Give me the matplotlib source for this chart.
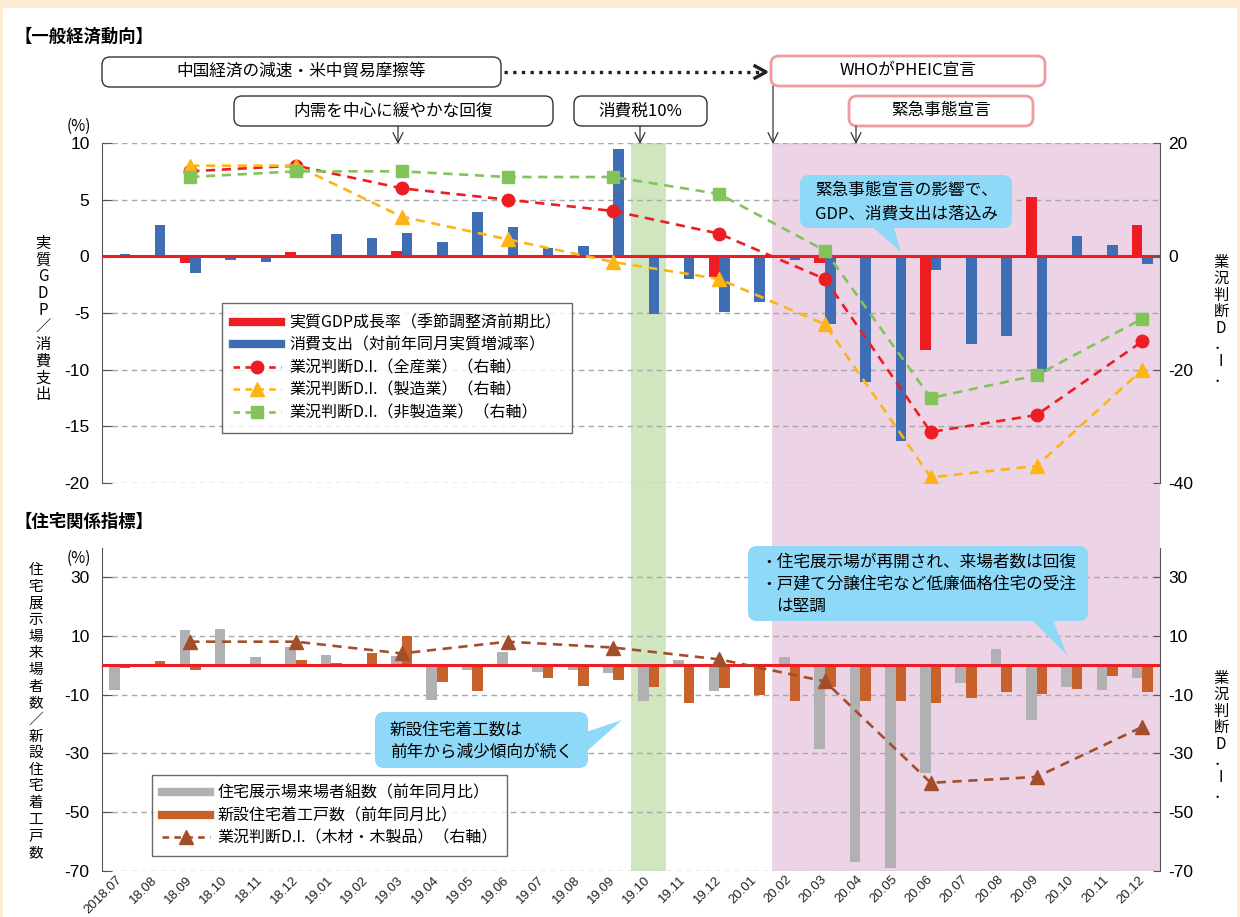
import matplotlib
matplotlib.use('Agg')
import matplotlib.pyplot as plt
import numpy as np
from matplotlib.patches import FancyBboxPatch, Polygon, Rectangle
from matplotlib.lines import Line2D

plt.rcParams['font.family'] = ['Noto Sans CJK JP', 'DejaVu Sans']
plt.rcParams['axes.unicode_minus'] = False

# ---- data ----
months = ['2018.07', '18.08', '18.09', '18.10', '18.11', '18.12',
          '19.01', '19.02', '19.03', '19.04', '19.05', '19.06',
          '19.07', '19.08', '19.09', '19.10', '19.11', '19.12',
          '20.01', '20.02', '20.03', '20.04', '20.05', '20.06',
          '20.07', '20.08', '20.09', '20.10', '20.11', '20.12']
quarter_months = ['18.09', '18.12', '19.03', '19.06', '19.09',
                  '19.12', '20.03', '20.06', '20.09', '20.12']

gdp = [-0.6, 0.4, 0.5, 0.05, 0.1, -1.8, -0.6, -8.3, 5.2, 2.8]
consumption = [0.2, 2.8, -1.5, -0.3, -0.5, -0.1, 2.0, 1.65, 2.1, 1.3,
               3.95, 2.6, 0.75, 0.95, 9.5, -5.1, -2.0, -4.9, -4.0, -0.35,
               -6.0, -11.1, -16.3, -1.2, -7.7, -7.0, -10.2, 1.8, 1.0, -0.65]
di_all = [15, 16, 12, 10, 8, 4, -4, -31, -28, -15]
di_mfg = [16, 16, 7, 3, -1, -4, -12, -39, -37, -20]
di_nonmfg = [14, 15, 15, 14, 14, 11, 1, -25, -21, -11]

visitors = [-8.4, 0, 12.0, 12.4, 2.7, 6.3, 3.5, 0, 3.0, -11.8,
            -1.8, 4.5, -2.4, -1.8, -2.7, -12.3, 1.9, -8.9, 0, 2.9,
            -28.5, -67.0, -69.0, -36.8, -6.1, 5.5, -18.8, -7.5, -8.5, -4.4]
starts = [-0.9, 1.35, -1.7, 0.3, -0.7, 1.9, 0.9, 4.1, 9.8, -5.7,
          -8.8, 0.3, -4.2, -7.2, -4.9, -7.3, -12.7, -7.9, -10.1, -12.3,
          -7.5, -12.3, -12.1, -12.8, -11.3, -9.0, -9.9, -8.2, -3.7, -9.0]
di_wood = [8, 8, 4, 8, 6, 2, -5.5, -40, -38, -21]

x = np.arange(len(months))
qx = np.array([months.index(m) for m in quarter_months])

RED = '#EE1D23'
BLUE = '#3F6EB5'
YEL = '#FDB515'
GRN = '#82C45A'
GRAY = '#B1B1B4'
ORG = '#C8622B'
BRN = '#A34E2A'
PINK = '#EDD3E6'
LGRN = '#CFE6BF'

W, H = 1240, 917
fig = plt.figure(figsize=(12.4, 9.17), dpi=100)
fig.patch.set_facecolor('#FDEBD1')
fig.add_artist(Rectangle((3 / W, 0), 1234 / W, 1 - 8 / H, transform=fig.transFigure,
                         facecolor='white', edgecolor='none', zorder=-1))

L, R = 102, 1160
def fx(px):
    return px / W
def fy(py):
    return 1 - py / H

# background shading across both panels
bg = fig.add_axes([fx(L), fy(871), fx(R - L), (871 - 143) / H])
bg.set_xlim(-0.5, 29.5)
bg.axvspan(14.5, 15.5, color=LGRN, lw=0)
bg.axvspan(18.5, 29.5, color=PINK, lw=0)
bg.axis('off')

dash = (0, (4, 3))
line_dash = (0, (3.5, 2.5))
tick_font = 'Liberation Sans'

def style(ax, ax2):
    for a in (ax, ax2):
        a.set_facecolor('none')
        a.spines['top'].set_visible(False)
        a.spines['bottom'].set_visible(False)
    ax.set_xlim(-0.5, 29.5)
    ax.spines['right'].set_visible(False)
    ax2.spines['left'].set_visible(False)
    ax.spines['left'].set_color('#555')
    ax2.spines['right'].set_color('#555')
    ax.tick_params(axis='y', direction='in', length=7, color='#555', pad=9,
                   labelsize=12.5, labelfontfamily=tick_font)
    ax2.tick_params(axis='y', direction='in', length=5, color='#555', pad=6,
                    labelsize=12.5, labelfontfamily=tick_font)
    ax.yaxis.grid(True, color='#A8A8A8', linestyle=dash, lw=1)
    ax.set_axisbelow(True)

# ---- top panel ----
ax = fig.add_axes([fx(L), fy(483), fx(R - L), 340 / H])
ax2 = ax.twinx()
style(ax, ax2)
ax.set_ylim(-20, 10)
ax.set_yticks([10, 5, 0, -5, -10, -15, -20])
ax2.set_ylim(-40, 20)
ax2.set_yticks([20, 0, -20, -40])
ax.set_xticks([])
ax.bar(qx - 0.15, gdp, width=0.3, color=RED, zorder=2)
ax.bar(x + 0.15, consumption, width=0.3, color=BLUE, zorder=2)
ax.axhline(0, color=RED, lw=2.2, zorder=3)
ax2.plot(qx, di_all, color=RED, ls=line_dash, lw=1.9, marker='o', ms=9)
ax2.plot(qx, di_mfg, color=YEL, ls=line_dash, lw=1.9, marker='^', ms=9.5)
ax2.plot(qx, di_nonmfg, color=GRN, ls=line_dash, lw=1.9, marker='s', ms=8)

# ---- bottom panel ----
bx = fig.add_axes([fx(L), fy(871), fx(R - L), (871 - 547.6) / H])
bx2 = bx.twinx()
style(bx, bx2)
for a in (bx, bx2):
    a.set_ylim(-70, 40)
    a.set_yticks([30, 10, -10, -30, -50, -70])
bx.bar(x - 0.15, visitors, width=0.3, color=GRAY, zorder=2)
bx.bar(x + 0.15, starts, width=0.3, color=ORG, zorder=2)
bx.axhline(0, color=RED, lw=2.2, zorder=3)
bx2.plot(qx, di_wood, color=BRN, ls=line_dash, lw=1.9, marker='^', ms=9.5)
bx.set_xticks(x)
bx.set_xticklabels(months, rotation=45, ha='right', va='center', rotation_mode='anchor',
                   fontsize=9.5, family=tick_font, color='#222')
bx.tick_params(axis='x', length=0, pad=5)

# ---- legends ----
h1 = [Line2D([], [], color=RED, lw=6),
      Line2D([], [], color=BLUE, lw=6),
      Line2D([], [], color=RED, ls=(0, (2.5, 2)), lw=1.9, marker='o', ms=9),
      Line2D([], [], color=YEL, ls=(0, (2.5, 2)), lw=1.9, marker='^', ms=9.5),
      Line2D([], [], color=GRN, ls=(0, (2.5, 2)), lw=1.9, marker='s', ms=8)]
l1 = ['実質GDP成長率（季節調整済前期比）', '消費支出（対前年同月実質増減率）',
      '業況判断D.I.（全産業）（右軸）', '業況判断D.I.（製造業）（右軸）',
      '業況判断D.I.（非製造業）（右軸）']
leg1 = fig.legend(h1, l1, loc='upper left', bbox_to_anchor=(fx(222), fy(303)),
                  frameon=True, fancybox=False, edgecolor='#444', fontsize=11.5,
                  handlelength=3.0, labelspacing=0.35, borderpad=0.7,
                  handletextpad=0.5, borderaxespad=0)
leg1.get_frame().set_linewidth(1.0)

h2 = [Line2D([], [], color=GRAY, lw=6),
      Line2D([], [], color=ORG, lw=6),
      Line2D([], [], color=BRN, ls=(0, (2.5, 2)), lw=1.9, marker='^', ms=9.5)]
l2 = ['住宅展示場来場者組数（前年同月比）', '新設住宅着工戸数（前年同月比）',
      '業況判断D.I.（木材・木製品）（右軸）']
leg2 = fig.legend(h2, l2, loc='upper left', bbox_to_anchor=(fx(152), fy(775)),
                  frameon=True, fancybox=False, edgecolor='#444', fontsize=11.5,
                  handlelength=3.0, labelspacing=0.35, borderpad=0.6,
                  handletextpad=0.5, borderaxespad=0)
leg2.get_frame().set_linewidth(1.0)

# ---- overlay for annotations (pixel coords) ----
ov = fig.add_axes([0, 0, 1, 1], zorder=3)
ov.set_xlim(0, W)
ov.set_ylim(H, 0)
ov.axis('off')

ov.text(15, 37, '【一般経済動向】', fontsize=12.5, fontweight='bold', va='center')
ov.text(15, 522, '【住宅関係指標】', fontsize=12.5, fontweight='bold', va='center')
ov.text(79, 126, '(%)', fontsize=11, ha='center', va='center')
ov.text(79, 558, '(%)', fontsize=11, ha='center', va='center')

def vtext(xc, y0, y1, chars, size):
    step = (y1 - y0) / (len(chars) - 1)
    for k, ch in enumerate(chars):
        ov.text(xc, y0 + k * step, ch, fontsize=size, ha='center', va='center')

vtext(43, 243, 395, list('実質GDP／消費支出'), 11)
vtext(36, 570, 853, list('住宅展示場来場者数／新設住宅着工戸数'), 10.5)
vtext(1221, 262, 378, ['業', '況', '判', '断', 'D', '．', 'I', '．'], 11)
vtext(1221, 678, 794, ['業', '況', '判', '断', 'D', '．', 'I', '．'], 11)

def box(x0, y0, x1, y1, text, ec='#333', lw=1.0):
    ov.add_patch(FancyBboxPatch((x0, y0), x1 - x0, y1 - y0,
                                boxstyle='round,pad=0,rounding_size=8',
                                fc='white', ec=ec, lw=lw))
    ov.text((x0 + x1) / 2, (y0 + y1) / 2, text, fontsize=12, ha='center', va='center')

box(102, 57, 501, 87, '中国経済の減速・米中貿易摩擦等')
box(771, 56, 1045, 86, 'WHOがPHEIC宣言', ec='#F29AA0', lw=2)
box(234, 96, 553, 126, '内需を中心に緩やかな回復')
box(574, 96, 707, 126, '消費税10%')
box(849, 96, 1033, 126, '緊急事態宣言', ec='#F29AA0', lw=2)

ov.plot([504, 760], [72, 72], color='#222', ls=(0, (1, 1.6)), lw=2.4)
ov.plot([755, 766, 755], [66, 72, 78], color='#222', lw=2.4)

for ax_x, y_top in [(398, 126), (640, 126), (773, 86), (856, 126)]:
    ov.annotate('', xy=(ax_x, 144), xytext=(ax_x, y_top),
                arrowprops=dict(arrowstyle='->', lw=0.9, color='#333',
                                mutation_scale=18, shrinkA=0, shrinkB=0))

CALL = '#8ED8F8'
def callout(x0, y0, x1, y1, tri):
    ov.add_patch(FancyBboxPatch((x0, y0), x1 - x0, y1 - y0,
                                boxstyle='round,pad=0,rounding_size=9', fc=CALL, ec='none'))
    ov.add_patch(Polygon(tri, closed=True, fc=CALL, ec='none'))

callout(800, 175, 1012, 228, [(870, 225), (893, 225), (901, 252)])
ov.text(815, 191, '緊急事態宣言の影響で、', fontsize=12, va='center')
ov.text(815, 214, 'GDP、消費支出は落込み', fontsize=12, va='center')

callout(748, 546, 1088, 621, [(1030, 618), (1052, 618), (1067, 655)])
ov.text(760, 562, '・住宅展示場が再開され、来場者数は回復', fontsize=12, va='center')
ov.text(760, 584, '・戸建て分譲住宅など低廉価格住宅の受注', fontsize=12, va='center')
ov.text(776, 606, 'は堅調', fontsize=12, va='center')

callout(375, 712, 588, 768, [(580, 734), (586, 752), (622, 720)])
ov.text(390, 730, '新設住宅着工数は', fontsize=12, va='center')
ov.text(390, 752, '前年から減少傾向が続く', fontsize=12, va='center')

fig.savefig('out.png', dpi=100, facecolor=fig.get_facecolor())
